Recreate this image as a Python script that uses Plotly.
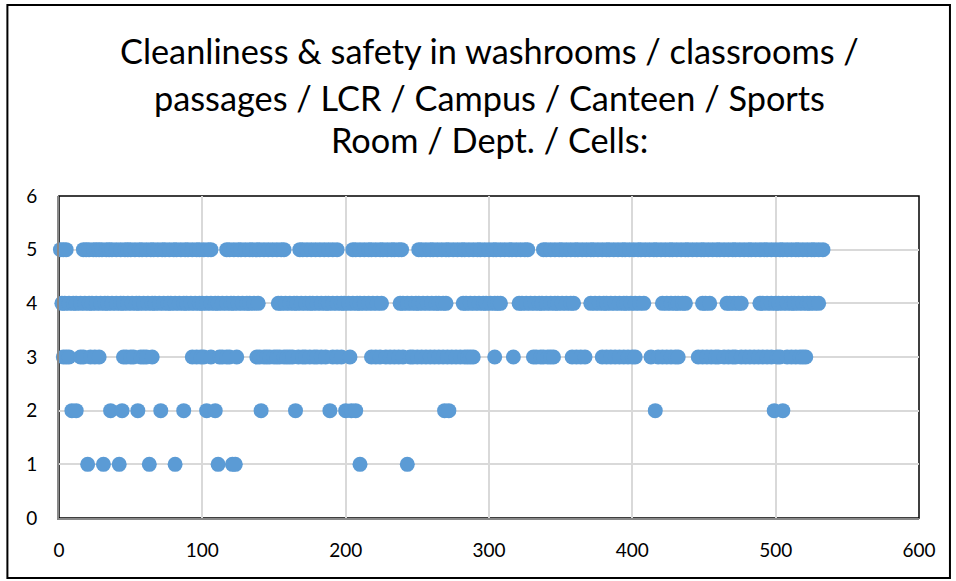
import plotly.graph_objects as go

# Respuestas (indice del encuestado) por nivel de calificacion
x_rating_1 = [20, 31, 42, 63, 81, 111, 121, 123, 210, 243]

x_rating_2 = [9, 12, 36, 44, 55, 71, 87, 103, 109, 141, 165, 189, 200, 204, 207,
              269, 272, 416, 499, 505]

x_rating_3 = [3, 5, 7, 15, 17, 22, 25, 28,
              45, 47, 50, 52, 57, 59, 61, 65,
              93, 96, 99, 101, 106, 112, 114, 117, 119, 124,
              138, 140, 143, 145, 147, 150, 152, 154, 157, 159, 161, 163, 167, 170,
              172, 175, 178, 180, 183, 186, 191, 194, 197, 203,
              218, 221, 224, 228, 231, 234, 237, 240, 245, 247, 250, 253, 256, 259,
              262, 265, 268, 271, 274, 277, 280, 283, 285, 287, 289,
              304, 317,
              331, 333, 336, 338, 341, 343, 345,
              358, 361, 364, 367,
              379, 382, 385, 388, 391, 394, 397, 400, 402,
              413, 418, 421, 424, 427, 430, 432,
              446, 449, 452, 455, 458, 460, 464, 467, 470, 472, 476, 479, 482, 485,
              488, 491, 494, 497, 501, 503, 508, 511, 514, 517, 519, 521]

x_rating_4 = [2, 4, 7, 10, 12, 15, 18, 21, 23, 26, 29, 32, 34, 37, 40, 43, 45, 48,
              51, 54, 56, 59, 62, 65, 67, 70, 73, 76, 78, 81, 84, 87, 89, 92, 95, 98,
              100, 103, 106, 109, 111, 114, 117, 120, 122, 125, 128, 131, 133, 136, 139,
              153, 155, 158, 161, 164, 166, 169, 172, 175, 177, 180, 183, 186, 188,
              191, 194, 197, 199, 202, 205, 208, 210, 213, 216, 219, 222, 225,
              238, 240, 243, 246, 249, 251, 254, 257, 260, 263, 265, 268, 270,
              282, 284, 287, 290, 293, 296, 298, 301, 304, 306, 308,
              321, 323, 326, 329, 332, 335, 337, 340, 343, 346, 348, 351, 354, 357, 359,
              371, 374, 377, 380, 382, 385, 388, 391, 394, 396, 399, 402, 405, 408,
              421, 424, 427, 430, 432, 435, 437,
              449, 451, 454,
              466, 468, 471, 474, 476,
              489, 491, 494, 497, 500, 502, 505, 508, 511, 513, 516, 519, 522, 524,
              527, 530]

x_rating_5 = [1, 3, 5, 17, 19, 21, 24, 26, 28, 30, 33, 35, 37, 40, 43, 46, 48, 50,
              53, 56, 58, 61, 64, 66, 69, 72, 74, 77, 80, 82, 85, 88, 90, 93, 96, 98,
              101, 104, 106, 117, 119, 122, 125, 127, 130, 133, 135, 138, 140, 143,
              146, 149, 152, 155, 157, 168, 170, 173, 176, 179, 182, 185, 188, 191, 194,
              205, 207, 210, 213, 216, 218, 221, 224, 226, 229, 232, 234, 237, 239,
              251, 253, 256, 259, 261, 264, 267, 270, 272, 275, 278, 281, 283, 286,
              289, 292, 294, 297, 300, 303, 305, 308, 311, 314, 316, 319, 322, 325, 327,
              338, 340, 343, 346, 349, 351, 354, 357, 360, 362, 365, 368, 371, 373,
              376, 379, 382, 384, 387, 390, 393, 395, 398, 401, 404, 406, 409, 412,
              415, 417, 420, 423, 426, 428, 431, 434, 437, 439, 442, 445, 448, 450,
              453, 456, 459, 461, 464, 467, 470, 472, 475, 478, 481, 483, 486, 489,
              492, 494, 497, 500, 503, 505, 508, 511, 514, 516, 519, 522, 525, 527,
              530, 533]

title_lines = ["Cleanliness & safety in washrooms / classrooms /",
               "passages / LCR / Campus / Canteen / Sports",
               "Room / Dept. / Cells:"]

xs, ys = [], []
for level, xl in [(1, x_rating_1), (2, x_rating_2), (3, x_rating_3),
                  (4, x_rating_4), (5, x_rating_5)]:
    xs += xl
    ys += [level] * len(xl)

fig = go.Figure()
fig.add_trace(
    go.Scatter(
        x=xs, y=ys,
        mode="markers",
        marker=dict(size=15, color="#5b9bd5"),
        cliponaxis=False,
        showlegend=False,
    )
)

fig.update_layout(
    width=956, height=581,
    margin=dict(l=59, r=37, t=196, b=63),
    paper_bgcolor="white",
    plot_bgcolor="white",
    font=dict(family="Lato", size=19, color="black"),
)

# Titulo en tres lineas (espaciado como en el original)
for i, (line, ypos) in enumerate(zip(title_lines, [1.453, 1.307, 1.174])):
    fig.add_annotation(
        text=line, xref="paper", yref="paper", x=0.5, y=ypos,
        xanchor="center", yanchor="middle", showarrow=False,
        font=dict(family="Lato", size=34.3, color="black"),
    )

fig.update_xaxes(
    range=[0, 600], dtick=100,
    showgrid=True, gridcolor="#d9d9d9", gridwidth=1.5,
    zeroline=False, showline=True, linecolor="#898989", linewidth=2,
    ticks="", ticklabelstandoff=14,
)
fig.update_yaxes(
    range=[0, 6], dtick=1,
    showgrid=True, gridcolor="#d9d9d9", gridwidth=1.5,
    zeroline=False, showline=True, linecolor="#898989", linewidth=2,
    ticks="", ticklabelstandoff=16,
)

# Borde del area de trazado y del grafico
fig.add_shape(type="rect", xref="paper", yref="paper", x0=0, x1=1, y0=0, y1=1,
              line=dict(color="black", width=1.5), layer="below")
fig.add_shape(type="rect", xref="paper", yref="paper",
              x0=-0.06, x1=1.036, y0=-0.186, y1=1.593,
              line=dict(color="black", width=2))

fig.write_html("out.html", config={"displayModeBar": False},
               post_script="document.body.style.margin='0px';")
